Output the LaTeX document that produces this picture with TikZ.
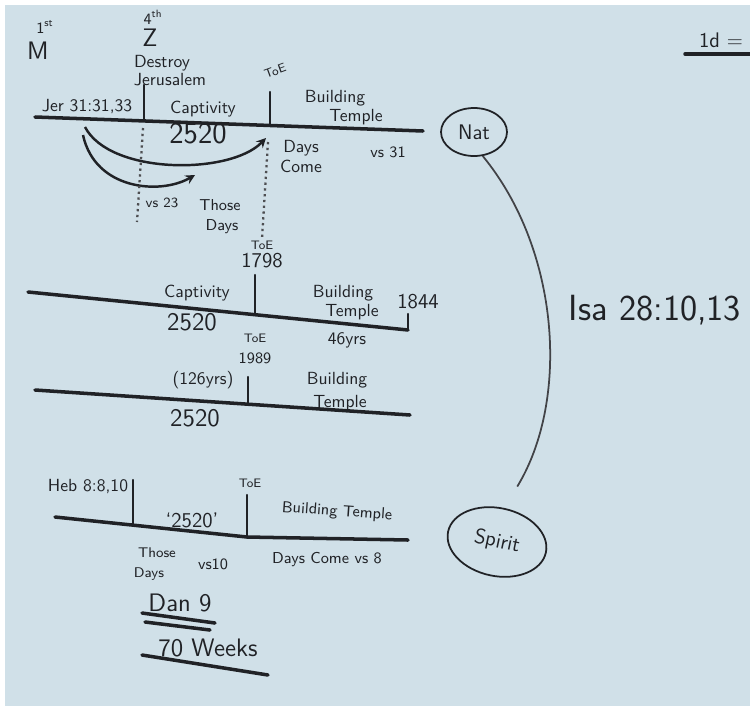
\documentclass[tikz,border=0pt]{standalone}
\usetikzlibrary{shapes.geometric,positioning}
\definecolor{board}{RGB}{208,224,232}
\definecolor{marker}{RGB}{32,34,38}

\begin{document}
\begin{tikzpicture}[x=0.02cm, y=-0.02cm, >=stealth,
    every node/.style={text=marker, font=\sffamily, inner sep=1pt},
    line/.style={draw=marker, line width=2pt, line cap=round},
    tick/.style={draw=marker, line width=1.4pt, line cap=round},
    dots/.style={draw=marker!80, line width=1.3pt, dotted},
    swing/.style={draw=marker, line width=1.4pt, ->},
    ring/.style={ellipse, draw=marker, line width=1pt, font=\sffamily\large},
    node distance=0pt]

  \useasboundingbox (0,0) rectangle (750,714);
  \fill[white] (0,0) rectangle (750,714);
  \fill[board] (5,5) rectangle (750,706);

  % headings over the first line
  \node (first) at (45,27) {\small 1\textsuperscript{st}};
  \node (mm) at (38,51) {\Large M};
  \node (fourth) at (153,17) {\small 4\textsuperscript{th}};
  \node (zz) at (150,38) {\Large Z};
  \node (destroy) at (162,63) {Destroy};
  \node (jerus) at (170,80) {Jerusalem};
  \node (oneday) at (721,40) {\large 1d =};
  \coordinate (od_a) at (685,54);
  \coordinate (od_b) at (750,54);
  \draw[line] (od_a) -- (od_b);

  % first line
  \coordinate (l1_a) at (35,117);
  \coordinate (l1_b) at (423,131);
  \draw[line] (l1_a) -- (l1_b);
  \coordinate (t1_a) at (144,85);
  \coordinate (t1_b) at (144,119);
  \draw[tick] (t1_a) -- (t1_b);
  \coordinate (t2_a) at (270,92);
  \coordinate (t2_b) at (270,125);
  \draw[tick] (t2_a) -- (t2_b);
  \node (jer) at (87,106) {Jer 31:31,33};
  \node (capt1) at (203,109) {Captivity};
  \node (n2520_a) at (198,134) {\LARGE 2520};
  \node [rotate=20] (toe1) at (275,71) {\scriptsize ToE};
  \node (build1) at (335,98) {Building};
  \node (temple1) at (356,117) {Temple};
  \node (days1) at (301,148) {Days};
  \node [below=of days1] (come1) {Come};
  \node (vs31) at (388,152) {\small vs 31};

  % the two arrows under it
  \coordinate (a1_s) at (85,127);
  \coordinate (a1_e) at (266,138);
  \coordinate (a2_s) at (83,135);
  \coordinate (a2_e) at (195,175);
  \draw[swing] (a1_s) .. controls (110,175) and (230,175) .. (a1_e);
  \draw[swing] (a2_s) .. controls (95,190) and (160,195) .. (a2_e);
  \coordinate (d1_a) at (143,128);
  \coordinate (d1_b) at (137,222);
  \draw[dots] (d1_a) -- (d1_b);
  \node (vs23) at (162,203) {\footnotesize vs 23};
  \node (those1) at (220,205) {\small Those};
  \node (days2) at (222,227) {\small Days};

  % second line
  \node (toe2) at (262,245) {\scriptsize ToE};
  \node [below=of toe2] (y1798) {\large 1798};
  \coordinate (d2_a) at (268,142);
  \draw[dots] (d2_a) -- (toe2.north);
  \coordinate (l2_a) at (28,292);
  \coordinate (l2_b) at (408,330);
  \draw[line] (l2_a) -- (l2_b);
  \coordinate (t3_a) at (255,275);
  \coordinate (t3_b) at (255,314);
  \draw[tick] (t3_a) -- (t3_b);
  \coordinate (t4_a) at (408,314);
  \draw[tick] (t4_a) -- (l2_b);
  \node (capt2) at (197,293) {Captivity};
  \node (n2520_b) at (192,322) {\Large 2520};
  \node (build2) at (343,293) {Building};
  \node (temple2) at (352,312) {Temple};
  \node (y1844) at (418,302) {\large 1844};
  \node (yrs46) at (347,340) {46yrs};

  % third line
  \node (toe3) at (255,338) {\scriptsize ToE};
  \node (y1989) at (255,358) {\small 1989};
  \coordinate (l3_a) at (35,390);
  \coordinate (l3_b) at (410,415);
  \draw[line] (l3_a) -- (l3_b);
  \coordinate (t5_a) at (248,377);
  \coordinate (t5_b) at (248,404);
  \draw[tick] (t5_a) -- (t5_b);
  \node (yrs126) at (203,380) {(126yrs)};
  \node (build3) at (337,380) {Building};
  \node (temple3) at (340,403) {Temple};
  \node (n2520_c) at (195,418) {\Large 2520};

  % fourth line
  \coordinate (l4_a) at (55,517);
  \coordinate (l4_m) at (247,537);
  \coordinate (l4_b) at (408,540);
  \draw[line] (l4_a) -- (l4_m) -- (l4_b);
  \coordinate (t6_a) at (133,480);
  \coordinate (t6_b) at (133,525);
  \draw[tick] (t6_a) -- (t6_b);
  \coordinate (t7_a) at (247,495);
  \draw[tick] (t7_a) -- (l4_m);
  \node (heb) at (88,486) {Heb 8:8,10};
  \node (toe4) at (250,483) {\scriptsize ToE};
  \node (n2520_d) at (192,520) {\large `2520'};
  \node [rotate=-4] (build4) at (337,512) {\small Building Temple};
  \node (those2) at (157,553) {\footnotesize Those};
  \node (days3) at (149,574) {\footnotesize Days};
  \node (vs10) at (213,564) {\small vs10};
  \node (dayscome) at (327,560) {\small Days Come vs 8};
  \node (dan) at (180,603) {\Large Dan 9};
  \coordinate (u1_a) at (142,613);
  \coordinate (u1_b) at (215,623);
  \coordinate (u2_a) at (145,622);
  \coordinate (u2_b) at (210,630);
  \draw[line] (u1_a) -- (u1_b);
  \draw[line] (u2_a) -- (u2_b);
  \node (weeks) at (208,648) {\Large 70 Weeks};
  \coordinate (u3_a) at (142,655);
  \coordinate (u3_b) at (268,675);
  \draw[line] (u3_a) -- (u3_b);

  % Nat and Spirit
  \node [ring, minimum width=1.32cm, minimum height=0.96cm] (nat) at (474,132) {Nat};
  \node [ring, minimum width=2cm, minimum height=1.36cm, rotate=-12] (spirit) at (497,542) {Spirit};
  \draw[marker!85, line width=1pt, shorten >=0.5cm]
    (nat.-70) .. controls (560,250) and (570,400) .. (spirit.north);
  \node (isa) at (655,310) {\huge Isa 28:10,13};
\end{tikzpicture}
\end{document}
